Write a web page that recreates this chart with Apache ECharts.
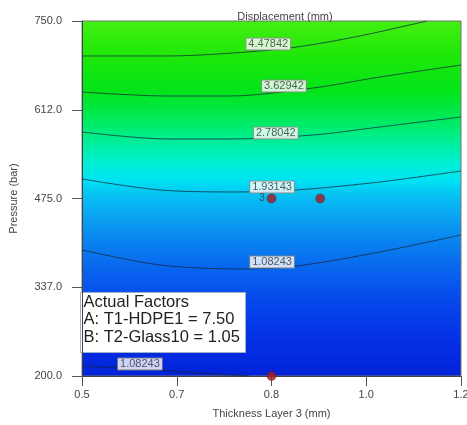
<!DOCTYPE html>
<html>
<head>
<meta charset="utf-8">
<script src="https://cdn.jsdelivr.net/npm/echarts@6/dist/echarts.min.js"></script>
<style>
  html, body { margin: 0; padding: 0; background: #fff; }
  #chart { width: 467px; height: 425px; }
</style>
</head>
<body>
<div id="chart"></div>
<script>
// Axis ticks (Thickness Layer 3, Pressure)
const xTickValues = [0.5, 0.675, 0.85, 1.025, 1.2];
const xTickLabels = ['0.5', '0.7', '0.8', '1.0', '1.2'];
const yTickValues = [200, 337.5, 475, 612.5, 750];
const yTickLabels = ['200.0', '337.0', '475.0', '612.0', '750.0'];

// Contour lines of displacement, [thickness, pressure]
const contour4478 = [[0.5, 695.8], [0.657, 695.8], [0.779, 700.4], [0.897, 709.7], [1.013, 726.8], [1.137, 750]];
const contour3629 = [[0.5, 640], [0.657, 633.8], [0.773, 633.8], [0.927, 646.2], [1.05, 663.2], [1.2, 681.8]];
const contour2780 = [[0.5, 578], [0.657, 567.2], [0.773, 567.2], [0.927, 573.4], [1.05, 585.8], [1.2, 601.3]];
const contour1931 = [[0.5, 505.2], [0.644, 488.2], [0.792, 485.1], [0.897, 488.2], [1.05, 500.6], [1.2, 517.6]];
const contour1082a = [[0.5, 395.2], [0.644, 372], [0.792, 365.8], [0.897, 370.4], [1.05, 392.1], [1.2, 418.5]];
const contour1082b = [[0.5, 215.5], [0.607, 210.9], [0.718, 204.6], [0.81, 200]];

// Contour level labels and where they sit
const levelText = ['4.47842', '3.62942', '2.78042', '1.93143', '1.08243', '1.08243'];
const levelX = [0.844, 0.873, 0.858, 0.851, 0.851, 0.607];
const levelY = [714.4, 649.3, 576.5, 492.8, 376.6, 218.6];

// Design points
const designX = [0.85, 0.94, 0.85];
const designY = [475, 475, 200];
const designTag = ['3', '', ''];

// Fixed factors
const factorLines = ['Actual Factors', 'A: T1-HDPE1 = 7.50', 'B: T2-Glass10 = 1.05'];

const chart = echarts.init(document.getElementById('chart'));

const contours = [contour4478, contour3629, contour2780, contour1931, contour1082a, contour1082b];

const lineSeries = contours.map(pts => ({
  type: 'line',
  data: pts,
  smooth: 0.3,
  symbol: 'none',
  clip: true,
  z: 3,
  lineStyle: { color: 'rgba(20,40,60,0.75)', width: 1 },
  silent: true
}));

const font = 'Arial, "Liberation Sans", sans-serif';

chart.setOption({
  animation: false,
  textStyle: { fontFamily: font },
  title: {
    text: 'Displacement (mm)',
    left: 280,
    top: 6,
    textAlign: 'center',
    textStyle: { fontSize: 11, fontWeight: 'normal', color: '#444', fontFamily: font }
  },
  grid: {
    left: 82, right: 6, top: 21, bottom: 49,
    outerBoundsMode: 'none',
    containLabel: false,
    show: true,
    borderColor: '#777',
    borderWidth: 1,
    backgroundColor: new echarts.graphic.LinearGradient(0, 0, 0, 1, [
      { offset: 0.00, color: '#44ef12' },
      { offset: 0.10, color: '#1ee808' },
      { offset: 0.20, color: '#02e41a' },
      { offset: 0.30, color: '#00ec70' },
      { offset: 0.40, color: '#00f0d4' },
      { offset: 0.45, color: '#00e2f4' },
      { offset: 0.50, color: '#08bcf2' },
      { offset: 0.60, color: '#0a8cf0' },
      { offset: 0.70, color: '#0864ee' },
      { offset: 0.80, color: '#0644ec' },
      { offset: 0.90, color: '#0430e4' },
      { offset: 1.00, color: '#0222d8' }
    ])
  },
  xAxis: {
    type: 'value',
    min: 0.5,
    max: 1.2,
    name: 'Thickness Layer 3 (mm)',
    nameLocation: 'middle',
    nameGap: 32,
    nameTextStyle: { fontSize: 11, color: '#444' },
    splitLine: { show: false },
    axisLine: { show: true, onZero: false, lineStyle: { color: '#444' } },
    axisTick: { show: true, length: 10, customValues: xTickValues, lineStyle: { color: '#555' } },
    axisLabel: {
      customValues: xTickValues,
      fontSize: 11,
      color: '#444',
      margin: 13,
      hideOverlap: false,
      formatter: v => xTickLabels[xTickValues.findIndex(t => Math.abs(t - v) < 1e-6)] ?? ''
    }
  },
  yAxis: {
    type: 'value',
    min: 200,
    max: 750,
    name: 'Pressure (bar)',
    nameLocation: 'middle',
    nameGap: 63,
    nameTextStyle: { fontSize: 11, color: '#444' },
    splitLine: { show: false },
    axisLine: { show: true, onZero: false, lineStyle: { color: '#444' } },
    axisTick: { show: true, length: 10, customValues: yTickValues, lineStyle: { color: '#555' } },
    axisLabel: {
      customValues: yTickValues,
      fontSize: 11,
      color: '#444',
      margin: 20,
      formatter: v => yTickLabels[yTickValues.findIndex(t => Math.abs(t - v) < 1e-6)] ?? ''
    }
  },
  series: [
    ...lineSeries,
    {
      type: 'scatter',
      symbolSize: 0,
      z: 5,
      silent: true,
      data: levelText.map((t, i) => ({ value: [levelX[i], levelY[i]], name: t })),
      label: {
        show: true,
        position: 'inside',
        formatter: p => p.name,
        fontSize: 11,
        color: '#333',
        backgroundColor: '#ffffff',
        borderColor: '#8a8a8a',
        borderWidth: 1,
        padding: [0, 2, 0, 2]
      }
    },
    {
      type: 'scatter',
      symbol: 'circle',
      symbolSize: 9,
      z: 6,
      clip: false,
      silent: true,
      itemStyle: { color: '#a31c24', borderColor: '#6a1018', borderWidth: 0.5 },
      data: designX.map((x, i) => ({ value: [x, designY[i]], name: designTag[i] })),
      label: {
        show: true,
        position: 'left',
        distance: 2,
        formatter: p => p.name,
        fontSize: 10,
        color: '#333',
        offset: [0, 0]
      }
    }
  ],
  graphic: [{
    type: 'group',
    left: 80,
    top: 292,
    children: [
      {
        type: 'rect',
        shape: { x: 0, y: 0, width: 165, height: 60 },
        style: { fill: '#ffffff', stroke: '#9fb0c8', lineWidth: 1 }
      },
      ...factorLines.map((t, i) => ({
        type: 'text',
        x: 3,
        y: 1 + i * 17.5,
        style: { text: t, fontSize: 16.5, fill: '#222', font: '16.5px ' + font }
      }))
    ]
  }]
});
</script>
</body>
</html>
